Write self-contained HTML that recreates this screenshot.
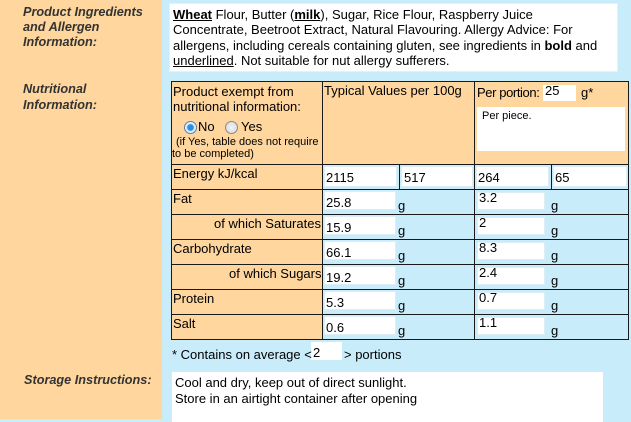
<!DOCTYPE html>
<html><head><meta charset="utf-8">
<style>
html,body{margin:0;padding:0}
body{width:631px;height:419px;overflow:hidden;position:relative;background:#C9ECFB;font-family:"Liberation Sans",Arial,sans-serif;color:#000}
.a{position:absolute;white-space:nowrap;z-index:2}
.t13{font-size:13px;line-height:13px}
.t11{font-size:11px;line-height:11px}
.lbl{position:absolute;white-space:nowrap;font-weight:bold;font-style:italic;color:#333;font-size:12.7px}
.box{position:absolute;background:#fff}
.inp{position:absolute;background:#fff;border:1px solid #dcedf5;box-sizing:border-box}
.hl{position:absolute;background:#1a1a1a;height:1px;left:171px;width:458px}
.vl{position:absolute;background:#1a1a1a;width:1px}
.or{position:absolute;background:#FED69E}
.rad{position:absolute;width:13px;height:13px;border-radius:50%;box-sizing:border-box}
</style></head><body>

<div class="or" style="left:0;top:0;width:162px;height:419px"></div>

<div class="lbl" style="left:23px;top:5.4px;line-height:14.8px">Product Ingredients<br>and Allergen<br>Information:</div>
<div class="lbl" style="left:23px;top:82px;line-height:15.7px">Nutritional<br>Information:</div>
<div class="lbl" style="left:24px;top:374px;line-height:13px">Storage Instructions:</div>

<div class="box" style="left:169px;top:3px;width:449px;height:69px;border:1px solid #e4f2f8;box-sizing:border-box"></div>
<div class="a" style="left:173px;top:6.8px;font-size:13px;line-height:15.4px">
<b><u>Wheat</u></b> Flour, Butter (<b><u>milk</u></b>), Sugar, Rice Flour, Raspberry Juice<br>
Concentrate, Beetroot Extract, Natural Flavouring. Allergy Advice: For<br>
allergens, including cereals containing gluten, see ingredients in <b>bold</b> and<br>
<u>underlined</u>. Not suitable for nut allergy sufferers.</div>

<div class="or" style="left:171px;top:81px;width:151px;height:258px"></div>
<div class="or" style="left:322px;top:81px;width:306px;height:83px"></div>

<div class="hl" style="top:81px"></div>
<div class="hl" style="top:164px"></div>
<div class="hl" style="top:189px"></div>
<div class="hl" style="top:214px"></div>
<div class="hl" style="top:239px"></div>
<div class="hl" style="top:264px"></div>
<div class="hl" style="top:289px"></div>
<div class="hl" style="top:314px"></div>
<div class="hl" style="top:339px"></div>
<div class="vl" style="left:171px;top:81px;height:259px"></div>
<div class="vl" style="left:322px;top:81px;height:259px"></div>
<div class="vl" style="left:474px;top:81px;height:259px"></div>
<div class="vl" style="left:628px;top:81px;height:259px"></div>
<div class="vl" style="left:399px;top:164px;height:25px"></div>
<div class="vl" style="left:551px;top:164px;height:25px"></div>

<div class="a t13" style="left:173px;top:85px">Product exempt from</div>
<div class="a t13" style="left:173px;top:100px">nutritional information:</div>
<div class="rad" style="left:183.5px;top:120.5px;border:1px solid #5a7fa8;background:radial-gradient(circle,#2a8fe0 0,#2a8fe0 3px,#cfe6f7 3.6px,#eef6fc 6px)"></div>
<div class="a t13" style="left:198px;top:120px">No</div>
<div class="rad" style="left:225px;top:120.5px;border:1px solid #8a8a8a;background:radial-gradient(circle,#f4f4f4 0,#dcdcdc 6px)"></div>
<div class="a t13" style="left:241px;top:120px">Yes</div>
<div class="a t11" style="left:176px;top:136.7px">(if Yes, table does not require</div>
<div class="a t11" style="left:172px;top:149.2px">to be completed)</div>

<div class="a t13" style="left:324px;top:84px">Typical Values per 100g</div>
<div class="box" style="left:543px;top:85px;width:33px;height:16px"></div>
<div class="a t13" style="left:477px;top:86px;letter-spacing:-0.4px">Per portion:</div>
<div class="a t13" style="left:545px;top:84px">25</div>
<div class="a t13" style="left:581px;top:86px">g*</div>
<div class="box" style="left:477px;top:107px;width:148px;height:44px"></div>
<div class="a t11" style="left:482px;top:110.7px">Per piece.</div>

<div class="a t13" style="left:173px;top:167px">Energy kJ/kcal</div>
<div class="inp" style="left:324px;top:166px;width:73px;height:21px"></div>
<div class="a t13" style="left:326px;top:171px">2115</div>
<div class="inp" style="left:401px;top:166px;width:72px;height:21px"></div>
<div class="a t13" style="left:404px;top:171px">517</div>
<div class="inp" style="left:476px;top:166px;width:73px;height:21px"></div>
<div class="a t13" style="left:478px;top:171px">264</div>
<div class="inp" style="left:553px;top:166px;width:74px;height:21px"></div>
<div class="a t13" style="left:555px;top:171px">65</div>

<div class="a t13" style="left:173px;top:192px">Fat</div>
<div class="inp" style="left:324px;top:191px;width:72px;height:19px"></div>
<div class="a t13" style="left:326px;top:196px">25.8</div>
<div class="a t13" style="left:398px;top:199px">g</div>
<div class="inp" style="left:477px;top:192px;width:68px;height:18px"></div>
<div class="a t13" style="left:479px;top:191px">3.2</div>
<div class="a t13" style="left:551px;top:199px">g</div>

<div class="a t13" style="left:214px;top:217px">of which Saturates</div>
<div class="inp" style="left:324px;top:216px;width:72px;height:19px"></div>
<div class="a t13" style="left:326px;top:221px">15.9</div>
<div class="a t13" style="left:398px;top:224px">g</div>
<div class="inp" style="left:477px;top:217px;width:68px;height:18px"></div>
<div class="a t13" style="left:479px;top:216px">2</div>
<div class="a t13" style="left:551px;top:224px">g</div>

<div class="a t13" style="left:173px;top:242px">Carbohydrate</div>
<div class="inp" style="left:324px;top:241px;width:72px;height:19px"></div>
<div class="a t13" style="left:326px;top:246px">66.1</div>
<div class="a t13" style="left:398px;top:249px">g</div>
<div class="inp" style="left:477px;top:242px;width:68px;height:18px"></div>
<div class="a t13" style="left:479px;top:241px">8.3</div>
<div class="a t13" style="left:551px;top:249px">g</div>

<div class="a t13" style="left:229px;top:267px">of which Sugars</div>
<div class="inp" style="left:324px;top:266px;width:72px;height:19px"></div>
<div class="a t13" style="left:326px;top:271px">19.2</div>
<div class="a t13" style="left:398px;top:274px">g</div>
<div class="inp" style="left:477px;top:267px;width:68px;height:18px"></div>
<div class="a t13" style="left:479px;top:266px">2.4</div>
<div class="a t13" style="left:551px;top:274px">g</div>

<div class="a t13" style="left:173px;top:292px">Protein</div>
<div class="inp" style="left:324px;top:291px;width:72px;height:19px"></div>
<div class="a t13" style="left:326px;top:296px">5.3</div>
<div class="a t13" style="left:398px;top:299px">g</div>
<div class="inp" style="left:477px;top:292px;width:68px;height:18px"></div>
<div class="a t13" style="left:479px;top:291px">0.7</div>
<div class="a t13" style="left:551px;top:299px">g</div>

<div class="a t13" style="left:173px;top:317px">Salt</div>
<div class="inp" style="left:324px;top:316px;width:72px;height:19px"></div>
<div class="a t13" style="left:326px;top:321px">0.6</div>
<div class="a t13" style="left:398px;top:324px">g</div>
<div class="inp" style="left:477px;top:317px;width:68px;height:18px"></div>
<div class="a t13" style="left:479px;top:316px">1.1</div>
<div class="a t13" style="left:551px;top:324px">g</div>

<div class="a t13" style="left:172px;top:348px">* Contains on average &lt;</div>
<div class="box" style="left:311px;top:342px;width:31px;height:18px"></div>
<div class="a t13" style="left:313px;top:345.5px">2</div>
<div class="a t13" style="left:344px;top:348px">&gt; portions</div>

<div class="box" style="left:172px;top:372px;width:431px;height:50px"></div>
<div class="a t13" style="left:175px;top:376px">Cool and dry, keep out of direct sunlight.</div>
<div class="a t13" style="left:175px;top:391.6px">Store in an airtight container after opening</div>

</body></html>
